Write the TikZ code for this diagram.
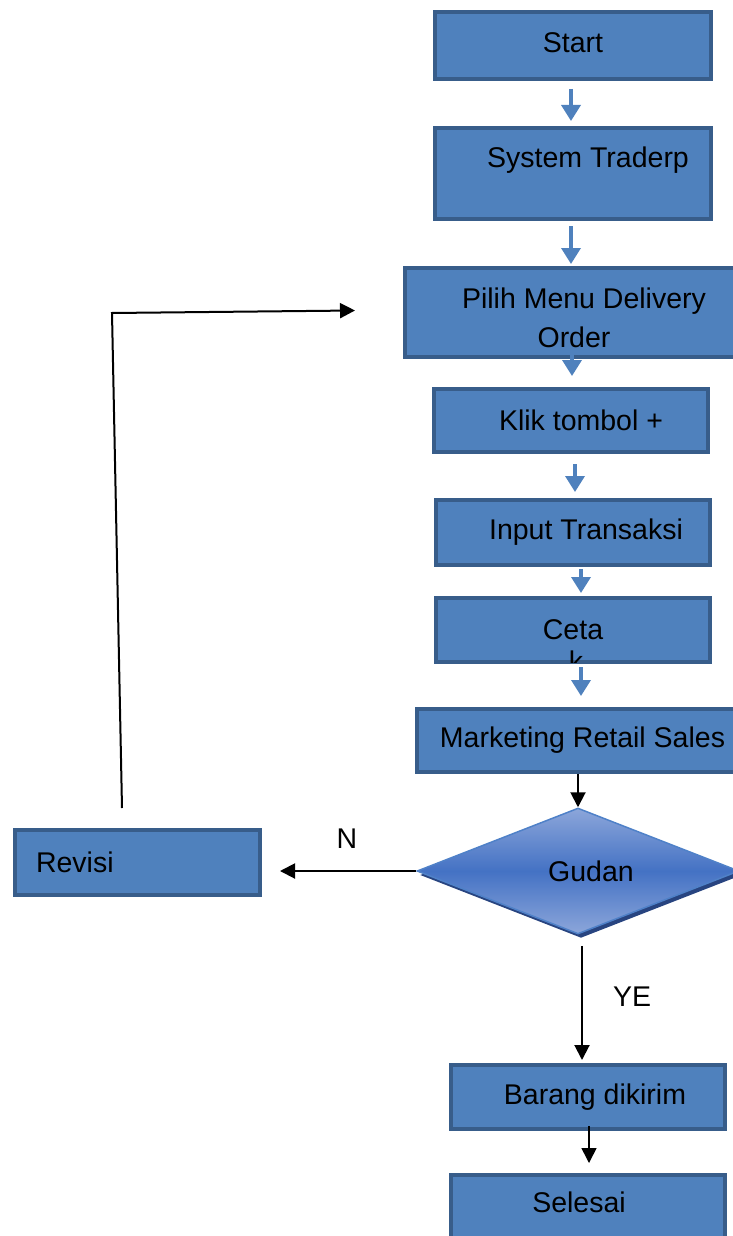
\documentclass[tikz,border=0pt]{standalone}
\usepackage{fontspec}
\setmainfont{Liberation Sans}
\usepackage{xcolor}
\usetikzlibrary{shapes.geometric, arrows.meta, shadows}
\definecolor{boxColor}{RGB}{79,129,189}
\definecolor{boxLineColor}{RGB}{56,93,138}
\definecolor{diaTopColor}{RGB}{140,166,218}
\definecolor{diaMidColor}{RGB}{68,114,196}
\definecolor{diaLineColor}{RGB}{79,129,200}
\definecolor{diaShadowColor}{RGB}{40,68,128}
\newcommand{\flowfont}{\fontsize{28.5}{39}\selectfont}

\begin{document}
\begin{tikzpicture}[x=1pt, y=-1pt,
    process/.style={rectangle, draw=boxLineColor, fill=boxColor, line width=4pt, inner sep=0pt, align=center, font=\flowfont},
    decision/.style={diamond, aspect=2.55, draw=diaLineColor, line width=1.5pt, top color=diaTopColor, bottom color=diaTopColor, middle color=diaMidColor, inner sep=0pt, font=\flowfont, drop shadow={shadow xshift=3pt, shadow yshift=-4pt, fill=diaShadowColor, opacity=1}},
    flow/.style={-{Triangle[width=19pt,length=16pt]}, line width=3.5pt, draw=boxColor},
    arrow/.style={-{Triangle[width=15pt,length=15pt]}, line width=2pt},
    branch/.style={inner sep=0pt, font=\flowfont}
]
    \useasboundingbox (0,0) rectangle (733,1236);
    \clip (0,0) rectangle (733,1236);

    % Main column
    \node[process, minimum width=276pt, minimum height=67pt] (start) at (573,45.5) {Start\rule[-6pt]{0pt}{0pt}};
    \node[process, minimum width=276pt, minimum height=91pt] (system) at (573,173.5) {\hspace*{30pt}System Traderp\\[-18pt]\strut};
    \node[process, minimum width=338pt, minimum height=89pt] (pilih) at (574,312.5) {\rule{0pt}{31pt}\hspace*{20pt}Pilih Menu Delivery\\Order};
    \node[process, minimum width=274pt, minimum height=63pt] (klik) at (571,420.5) {\hspace*{20pt}Klik tombol +};
    \node[process, minimum width=274pt, minimum height=65pt] (input) at (573,532.5) {\hspace*{26pt}Input Transaksi};
    \node[process, minimum width=274pt, minimum height=64pt] (ceta) at (573,630) {Ceta};
    \begin{scope}
        \clip ([yshift=2pt]ceta.south west) rectangle ([yshift=-2pt]ceta.north east);
        \node[branch] (cetaK) at (576,661) {k};
    \end{scope}
    \node[process, minimum width=331pt, minimum height=63pt] (marketing) at (582.5,740.5) {Marketing Retail Sales};

    % Decision
    \node[decision, minimum width=322pt, minimum height=126pt] (gudan) at (578,871) {\hspace*{26pt}Gudan};
    \node[process, minimum width=245pt, minimum height=65pt, text width=203pt, align=left] (revisi) at (137.5,862.5) {Revisi};
    \node[process, minimum width=274pt, minimum height=64pt] (barang) at (588,1097) {\hspace*{14pt}Barang dikirim};
    \node[process, minimum width=274pt, minimum height=87pt] (selesai) at (588,1218.5) {Selesai\hspace*{18pt}\\[-18pt]\strut};

    % Arrows
    \draw[flow, shorten <=8pt, shorten >=5pt] ([xshift=-2pt]start.south) -- ([xshift=-2pt]system.north);
    \draw[flow, shorten <=5pt, shorten >=2pt] ([xshift=-2pt]system.south) -- ([xshift=-3pt]pilih.north);
    \draw[flow, shorten <=-7pt, shorten >=11pt] ([xshift=-2pt]pilih.south) -- ([xshift=1pt]klik.north);
    \draw[flow, shorten <=10pt, shorten >=6pt] ([xshift=4pt]klik.south) -- ([xshift=2pt]input.north);
    \draw[flow, shorten <=2pt, shorten >=3pt] ([xshift=8pt]input.south) -- ([xshift=8pt]ceta.north);
    \draw[flow, shorten <=3pt, shorten >=11pt] ([xshift=8pt]ceta.south) -- ([xshift=-1.5pt]marketing.north);
    \draw[arrow] ([xshift=-4.5pt]marketing.south) -- (gudan.north);
    \draw[arrow, shorten >=18pt] (gudan.west) -- (gudan.west -| revisi.east) node[branch, pos=0.45, above=22pt] {N};
    \draw[arrow, shorten <=11pt, shorten >=3pt] ([xshift=4pt]gudan.south) -- ([xshift=-6pt]barang.north) node[branch, pos=0.48, right=30pt] {YE};
    \draw[arrow, line width=1.6pt, shorten <=-5pt, shorten >=10pt] ([xshift=1pt]barang.south) -- ([xshift=1pt]selesai.north);

    % Back to menu
    \coordinate (revOut) at (122,808);
    \coordinate (loopBend) at (112,313);
    \draw[arrow, shorten >=48pt] (revOut) -- (loopBend) -- ([yshift=2.5pt]pilih.west);
\end{tikzpicture}
\end{document}
